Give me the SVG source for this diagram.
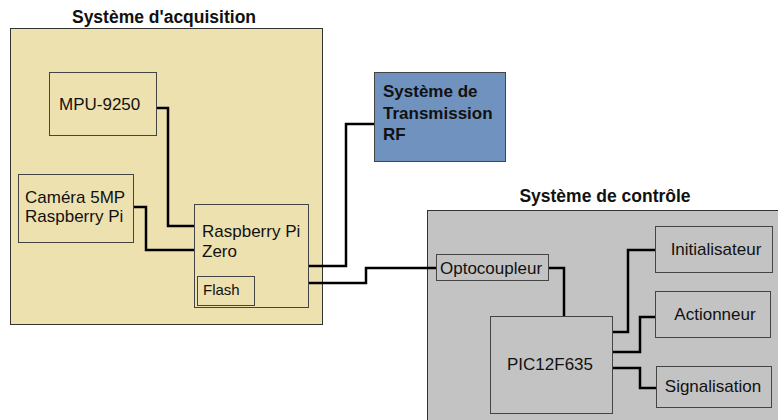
<svg xmlns="http://www.w3.org/2000/svg" width="778" height="420" viewBox="0 0 778 420">
<style>
text{font-family:"Liberation Sans",Arial,sans-serif;fill:#111}
.t{font-size:17.5px;font-weight:bold}
.n{font-size:17px}
.s{font-size:15px}
.acq{fill:#EEE1B0;stroke:#333;stroke-width:1}
.ctl{fill:#C3C3C3;stroke:#333;stroke-width:1}
.box{stroke:#444;stroke-width:1}
.w{fill:none;stroke:#000;stroke-width:2.5}
</style>
<rect width="778" height="420" fill="#fff"/>
<g id="acquisition">
<rect class="acq" x="10.5" y="28.5" width="312" height="296"/>
<text class="t" x="164" y="23" text-anchor="middle">Système d'acquisition</text>
</g>
<g id="controle">
<rect class="ctl" x="427.5" y="210.5" width="360" height="220"/>
<text class="t" x="605" y="202" text-anchor="middle">Système de contrôle</text>
</g>
<g id="connectors">
<polyline class="w" points="156,108 168,108 168,226 194,226"/>
<polyline class="w" points="133,207 146,207 146,250 194,250"/>
<polyline class="w" points="308,266 346,266 346,124 374,124"/>
<polyline class="w" points="308,283 366,283 366,268 436,268"/>
<polyline class="w" points="548,268 564,268 564,316"/>
<polyline class="w" points="612,332 628,332 628,250 655,250"/>
<polyline class="w" points="612,352 640,352 640,317 655,317"/>
<polyline class="w" points="612,368 640,368 640,388 656,388"/>
</g>
<g id="mpu">
<rect class="box" x="49.5" y="72.5" width="107" height="63" fill="#EEE1B0"/>
<text class="n" x="59" y="110">MPU-9250</text>
</g>
<g id="camera">
<rect class="box" x="18.5" y="174.5" width="115" height="68" fill="#EEE1B0"/>
<text class="n" x="25" y="203">Caméra 5MP</text>
<text class="n" x="25" y="222">Raspberry Pi</text>
</g>
<g id="rpi">
<rect class="box" x="194.5" y="204.5" width="114" height="103" fill="#EEE1B0"/>
<text class="n" x="202" y="237">Raspberry Pi</text>
<text class="n" x="202" y="257">Zero</text>
</g>
<g id="flash">
<rect class="box" x="197.5" y="276.5" width="57" height="29" fill="#EEE1B0"/>
<text class="s" x="203" y="295">Flash</text>
</g>
<g id="rf">
<rect class="box" x="374.5" y="72.5" width="131" height="89" fill="#6F92BF"/>
<text class="t" x="383" y="97" style="font-size:17px">Système de</text>
<text class="t" x="383" y="119" style="font-size:17px">Transmission</text>
<text class="t" x="383" y="140" style="font-size:17px">RF</text>
</g>
<g id="opto">
<rect class="box" x="436.5" y="254.5" width="112" height="26" fill="#C3C3C3"/>
<text class="n" x="440" y="274">Optocoupleur</text>
</g>
<g id="pic">
<rect class="box" x="490.5" y="316.5" width="122" height="97" fill="#C3C3C3"/>
<text class="n" x="550" y="370" text-anchor="middle">PIC12F635</text>
</g>
<g id="init">
<rect class="box" x="655.5" y="226.5" width="117" height="46" fill="#C3C3C3"/>
<text class="n" x="716" y="255" text-anchor="middle">Initialisateur</text>
</g>
<g id="actionneur">
<rect class="box" x="655.5" y="291.5" width="115" height="46" fill="#C3C3C3"/>
<text class="n" x="715" y="320" text-anchor="middle">Actionneur</text>
</g>
<g id="signal">
<rect class="box" x="656.5" y="366.5" width="115" height="41" fill="#C3C3C3"/>
<text class="n" x="713" y="392" text-anchor="middle">Signalisation</text>
</g>
</svg>
